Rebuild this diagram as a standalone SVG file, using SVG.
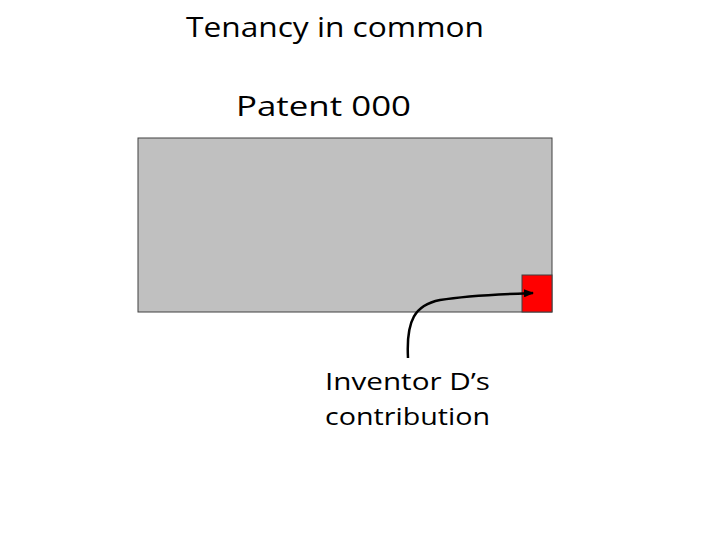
<svg xmlns="http://www.w3.org/2000/svg" width="720" height="540" viewBox="0 0 720 540">
<style>
text{font-family:"Open Sans","Liberation Sans",sans-serif;fill:#000}
.t{font-size:27px}
.l{font-size:24px}
</style>
<defs><marker id="a" markerWidth="10" markerHeight="8" refX="9" refY="4" orient="auto" markerUnits="userSpaceOnUse"><path d="M0,0L10,4L0,8z" fill="#000"/></marker></defs>
<rect width="720" height="540" fill="#fff"/>
<text class="t" x="186" y="37" textLength="298" lengthAdjust="spacingAndGlyphs">Tenancy in common</text>
<text class="t" x="236" y="116" textLength="175" lengthAdjust="spacingAndGlyphs">Patent 000</text>
<g id="patent"><rect x="138" y="138" width="414" height="174" fill="#c0c0c0" stroke="#404040" stroke-width="1"/></g>
<g id="contribution"><rect x="522" y="275" width="30" height="37" fill="#f00" stroke="#404040" stroke-width="1"/></g>
<g id="connectors"><path d="M408,358 C406,320 415,305 440,300 C470,295 505,294 533,293" fill="none" stroke="#000" stroke-width="2.5" marker-end="url(#a)"/></g>
<g id="label">
<text class="l" x="325" y="390" textLength="165" lengthAdjust="spacingAndGlyphs">Inventor D’s</text>
<text class="l" x="325" y="425" textLength="165" lengthAdjust="spacingAndGlyphs">contribution</text>
</g>
</svg>
